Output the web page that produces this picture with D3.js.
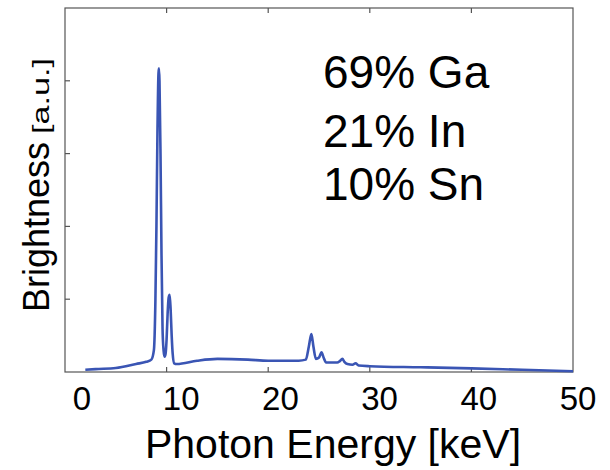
<!DOCTYPE html>
<html>
<head>
<meta charset="utf-8">
<script src="https://cdn.jsdelivr.net/npm/d3@7"></script>
<style>
  body { margin: 0; background: #fff; }
  text { font-family: "Liberation Sans", Arial, sans-serif; fill: #000; }
</style>
</head>
<body>
<svg width="610" height="470"></svg>
<script>
// spectrum: photon energy (keV) and brightness (a.u.)
const energy = [2, 3, 5, 7, 8, 8.5, 8.75, 8.9, 9.0, 9.1, 9.2, 9.25, 9.3, 9.4, 9.5, 9.6, 9.7, 9.8,
    9.9, 10.0, 10.1, 10.2, 10.3, 10.4, 10.5, 10.6, 10.75, 11, 13, 15, 18, 20, 23, 23.7, 24.0,
    24.25, 24.45, 24.7, 25.0, 25.25, 25.45, 25.7, 26.3, 26.8, 27.05, 27.3, 27.5, 27.8, 28.3,
    28.6, 28.9, 30, 35, 40, 45, 50];
const brightness = [0.03, 0.04, 0.055, 0.11, 0.14, 0.17, 0.3, 1.0, 2.0, 3.3, 4.1, 4.17, 4.0, 3.0,
    1.6, 0.6, 0.3, 0.21, 0.25, 0.45, 0.8, 1.02, 1.06, 0.85, 0.5, 0.25, 0.12, 0.11, 0.155, 0.18,
    0.17, 0.155, 0.155, 0.17, 0.35, 0.52, 0.35, 0.18, 0.2, 0.27, 0.2, 0.13, 0.13, 0.13, 0.15,
    0.18, 0.14, 0.11, 0.1, 0.12, 0.09, 0.08, 0.065, 0.05, 0.03, 0.01];

const xTicks = [0, 10, 20, 30, 40, 50];
const yTicks = [1, 2, 3, 4];
const composition = ['69% Ga', '21% In', '10% Sn'];

const spectrum = energy.map((e, i) => ({ e: e, b: brightness[i] }));

const pLeft = 65, pRight = 573, pTop = 8, pBottom = 372;
const svg = d3.select('svg');

const x = d3.scaleLinear().domain([0, 50]).range([pLeft, pRight]);
const y = d3.scaleLinear().domain([0, 5]).range([pBottom, pTop]);
// tick labels sit a little right of their ticks in the original
const xLabel = d3.scaleLinear().domain([0, 50]).range([82, 578]);

// box
svg.append('rect')
    .attr('x', pLeft).attr('y', pTop)
    .attr('width', pRight - pLeft).attr('height', pBottom - pTop)
    .attr('fill', 'none').attr('stroke', '#555').attr('stroke-width', 1.2);

// inward ticks, no labels on y
svg.selectAll('.ytick').data(yTicks).enter().append('line')
    .attr('x1', pLeft).attr('x2', pLeft + 5)
    .attr('y1', d => y(d)).attr('y2', d => y(d))
    .attr('stroke', '#555').attr('stroke-width', 1.2);

svg.selectAll('.xtick').data(xTicks.slice(1, -1)).enter().append('line')
    .attr('x1', d => x(d)).attr('x2', d => x(d))
    .attr('y1', pBottom).attr('y2', pBottom - 5)
    .attr('stroke', '#555').attr('stroke-width', 1.2);

svg.selectAll('.xtick-top').data(xTicks.slice(1, -1)).enter().append('line')
    .attr('x1', d => x(d)).attr('x2', d => x(d))
    .attr('y1', pTop).attr('y2', pTop + 5)
    .attr('stroke', '#555').attr('stroke-width', 1.2);

svg.selectAll('.xlab').data(xTicks).enter().append('text')
    .attr('x', d => xLabel(d)).attr('y', 410)
    .attr('text-anchor', 'middle')
    .attr('font-size', 33)
    .text(d => d);

// spectrum line
const line = d3.line().x(d => x(d.e)).y(d => y(d.b)).curve(d3.curveMonotoneX);
svg.append('path')
    .datum(spectrum)
    .attr('d', line)
    .attr('fill', 'none')
    .attr('stroke', '#3a55b4')
    .attr('stroke-width', 2.6)
    .attr('stroke-linejoin', 'round');

// axis titles
svg.append('text')
    .attr('x', 333).attr('y', 458)
    .attr('text-anchor', 'middle')
    .attr('font-size', 41)
    .text('Photon Energy [keV]');

const yt = svg.append('text')
    .attr('transform', 'translate(49,312) rotate(-90)')
    .attr('font-size', 36);
yt.append('tspan').text('Brightness');
yt.append('tspan').attr('dx', 8).attr('font-size', 24).attr('textLength', 76)
    .attr('lengthAdjust', 'spacingAndGlyphs').text('[a.u.]');

// composition
svg.selectAll('.comp').data(composition).enter().append('text')
    .attr('x', 323)
    .attr('y', (d, i) => [88, 147, 200][i])
    .attr('font-size', 46)
    .text(d => d);
</script>
</body>
</html>
